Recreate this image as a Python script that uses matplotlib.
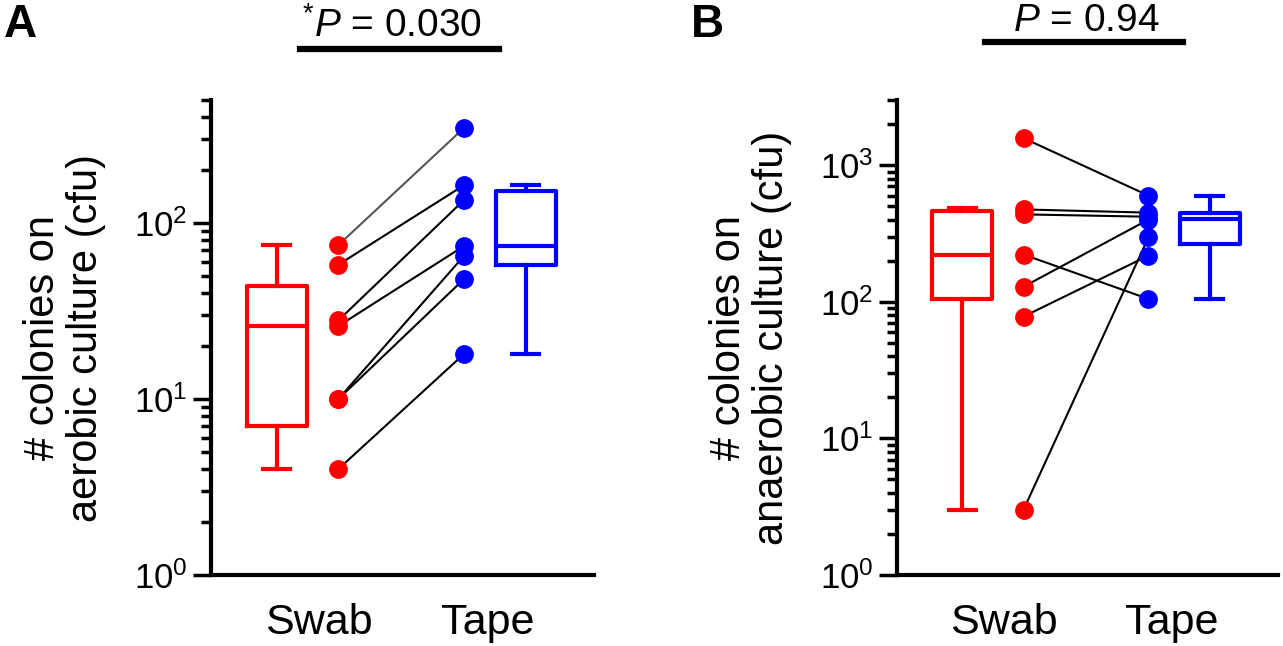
import matplotlib
matplotlib.use("Agg")
import matplotlib.pyplot as plt
import matplotlib.transforms as mtransforms

plt.rcParams['font.family'] = ['Liberation Sans', 'DejaVu Sans']
plt.rcParams['mathtext.fontset'] = 'custom'
plt.rcParams['mathtext.rm'] = 'Liberation Sans'
plt.rcParams['mathtext.it'] = 'Liberation Sans:italic'
plt.rcParams['mathtext.bf'] = 'Liberation Sans:bold'

categories = ['Swab', 'Tape']

# panel A - aerobic culture, paired samples (swab[i] <-> tape[i])
a_swab = [75, 58, 28, 26, 10, 10, 4]
a_tape = [347, 164, 135, 74, 65, 48, 18]
a_swab_box = dict(whislo=4, q1=7, med=26, q3=44, whishi=75)
a_tape_box = dict(whislo=18, q1=58, med=74, q3=153, whishi=164)
a_pval = r'$^{*}P$ = 0.030'

# panel B - anaerobic culture
b_swab = [1580, 475, 437, 222, 129, 78, 3]
b_tape = [600, 450, 420, 105, 400, 218, 296]
b_swab_box = dict(whislo=3, q1=105, med=220, q3=460, whishi=490)
b_tape_box = dict(whislo=105, q1=265, med=405, q3=445, whishi=600)
b_pval = r'$P$ = 0.94'

RED = '#ff0000'
BLUE = '#0000ff'

fig = plt.figure(figsize=(12.83, 6.46), dpi=100)
axA = fig.add_axes([0.1645, 0.110, 0.2985, 0.735])
axB = fig.add_axes([0.699, 0.110, 0.297, 0.735])


def draw_panel(ax, swab, tape, swab_box, tape_box, ylim, ylabel, first_gray=False):
    off = 0.165
    for box, pos, col in [(swab_box, 1 - off, RED), (tape_box, 2 + off, BLUE)]:
        ax.bxp([dict(box, fliers=[])], positions=[pos], widths=0.32,
               capwidths=0.145, showfliers=False,
               boxprops=dict(color=col, lw=3),
               whiskerprops=dict(color=col, lw=3),
               capprops=dict(color=col, lw=3),
               medianprops=dict(color=col, lw=3))
    for i, (s, t) in enumerate(zip(swab, tape)):
        c = '#555555' if (first_gray and i == 0) else 'black'
        ax.plot([1 + off, 2 - off], [s, t], color=c, lw=1.5, zorder=3)
    ax.plot([1 + off] * len(swab), swab, 'o', color=RED, ms=12.5, zorder=4)
    ax.plot([2 - off] * len(tape), tape, 'o', color=BLUE, ms=12.5, zorder=4)

    ax.set_yscale('log')
    ax.set_ylim(*ylim)
    ax.set_xlim(0.485, 2.53)
    # tick marks are hidden; labels sit slightly inward as in the original
    ax.set_xticks([1.06, 1.96])
    ax.set_xticklabels(categories, fontsize=31)
    ax.tick_params(axis='x', length=0, pad=20)
    ax.tick_params(axis='y', which='major', length=13, width=2.5, labelsize=25, pad=4)
    ax.tick_params(axis='y', which='minor', length=7, width=2.5)
    for sp in ['top', 'right']:
        ax.spines[sp].set_visible(False)
    for sp in ['left', 'bottom']:
        ax.spines[sp].set_linewidth(3)
    ax.set_ylabel(ylabel, fontsize=30, linespacing=1.1, labelpad=20)


draw_panel(axA, a_swab, a_tape, a_swab_box, a_tape_box, (1, 500),
           '# colonies on\naerobic culture (cfu)', first_gray=True)
draw_panel(axB, b_swab, b_tape, b_swab_box, b_tape_box, (1, 3000),
           '# colonies on\nanaerobic culture (cfu)')

# significance bars and p-values (x in data units, y in figure pixels from top)
for ax, txt, xtxt, ybar, ytxt in [(axA, a_pval, 1.45, 49, 37), (axB, b_pval, 1.5, 42, 31)]:
    tr = mtransforms.blended_transform_factory(ax.transData, fig.transFigure)
    ax.add_line(plt.Line2D([0.96, 2.02], [1 - ybar / 646] * 2, color='black', lw=4.5,
                           transform=tr, clip_on=False))
    ax.text(xtxt, 1 - ytxt / 646, txt, fontsize=28, ha='center', va='baseline',
            transform=tr)

fig.text(4 / 1283, 1 - 37 / 646, 'A', fontsize=33, fontweight='bold', va='baseline')
fig.text(691 / 1283, 1 - 37 / 646, 'B', fontsize=33, fontweight='bold', va='baseline')

fig.savefig('out.png', dpi=100)
